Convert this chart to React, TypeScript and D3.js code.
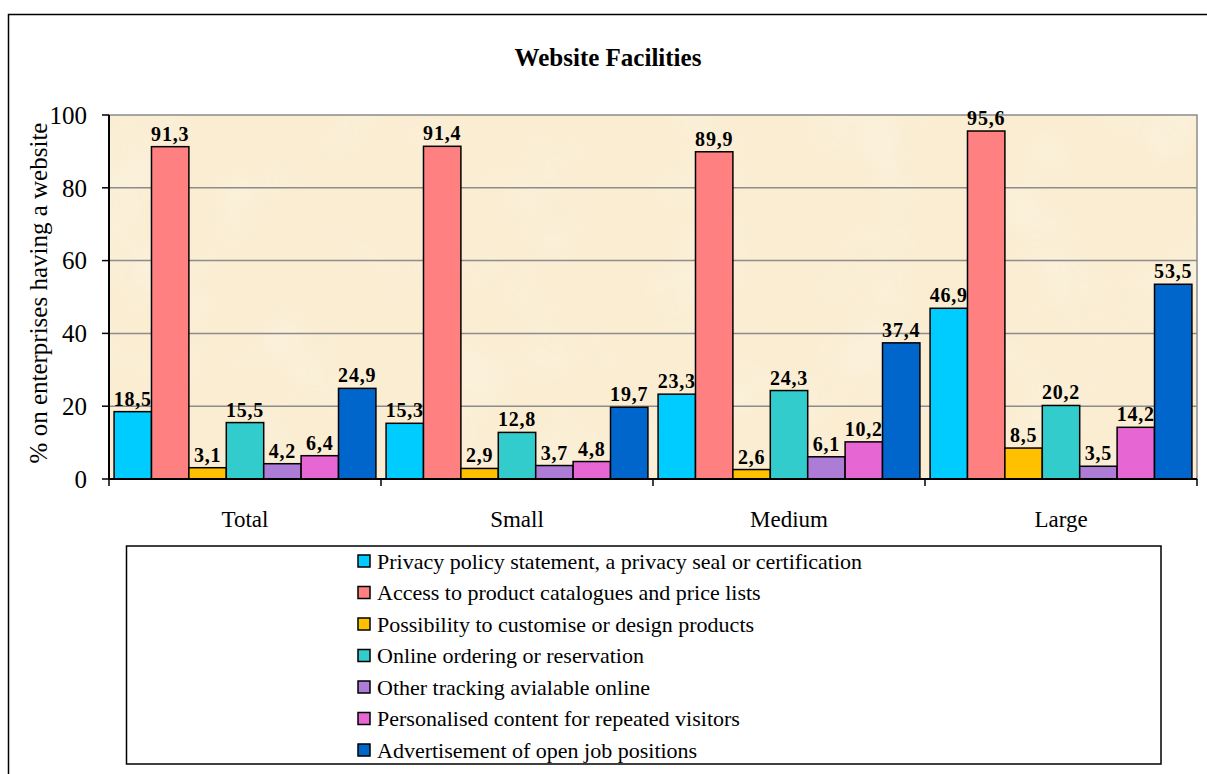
import React from "react";
import * as d3 from "d3";

// enterprise size classes
const categories = ["Total", "Small", "Medium", "Large"];

// % of enterprises having a website, per facility
const privacyPolicy = [18.5, 15.3, 23.3, 46.9];
const productCatalogues = [91.3, 91.4, 89.9, 95.6];
const customiseProducts = [3.1, 2.9, 2.6, 8.5];
const onlineOrdering = [15.5, 12.8, 24.3, 20.2];
const otherTracking = [4.2, 3.7, 6.1, 3.5];
const personalisedContent = [6.4, 4.8, 10.2, 14.2];
const jobPositions = [24.9, 19.7, 37.4, 53.5];

const seriesNames = [
  "Privacy policy statement, a privacy seal or certification",
  "Access to product catalogues and price lists",
  "Possibility to customise or design products",
  "Online ordering or reservation",
  "Other tracking avialable online",
  "Personalised content for repeated visitors",
  "Advertisement of open job positions",
];
const seriesColors = ["#00CCFF", "#FF8080", "#FFC000", "#33CCCC", "#AC7CD6", "#E666D4", "#0066CC"];
const yTicks = [0, 20, 40, 60, 80, 100];

const series = [
  privacyPolicy,
  productCatalogues,
  customiseProducts,
  onlineOrdering,
  otherTracking,
  personalisedContent,
  jobPositions,
].map((values, i) => ({ name: seriesNames[i], color: seriesColors[i], values }));

const W = 1207;
const H = 774;
const serif = { fontFamily: "Liberation Serif" };

const App = () => {
  const plot = { left: 109, right: 1197, top: 115, bottom: 479 };

  const xScale = d3.scaleBand<string>().domain(categories).range([plot.left, plot.right]).padding(0);
  const inner = d3
    .scaleBand<string>()
    .domain(seriesNames)
    .range([0, xScale.bandwidth()])
    .paddingInner(0)
    .paddingOuter(0.136);
  const yScale = d3.scaleLinear().domain([0, 100]).range([plot.bottom, plot.top]);
  const fmt = (v: number) => d3.format(".1f")(v).replace(".", ",");

  const legend = { x: 126.5, y: 546, w: 1034.5, h: 218, rowTop: 561, rowStep: 31.5, swatchX: 358 };

  return (
    <div style={{ position: "fixed", left: 0, top: 0 }}>
      <svg width={W} height={H} style={{ display: "block", background: "white" }}>
        <defs>
          {/* soft mottled parchment look for the plot area */}
          <filter id="parchment" x="0" y="0" width="100%" height="100%">
            <feTurbulence type="fractalNoise" baseFrequency="0.012" numOctaves={3} seed={4} />
            <feColorMatrix
              type="matrix"
              values="0 0 0 0 1  0 0 0 0 1  0 0 0 0 1  0 0 0 -1.4 0.75"
            />
          </filter>
        </defs>

        {/* outer chart border, runs off the page right and bottom */}
        <rect x={8.5} y={14.5} width={W + 20} height={H + 20} fill="none" stroke="black" strokeWidth={1.5} />

        {/* title */}
        <text x={608} y={66} textAnchor="middle" style={serif} fontWeight="bold" fontSize={25}>
          Website Facilities
        </text>

        {/* plot background */}
        <rect
          x={plot.left}
          y={plot.top}
          width={plot.right - plot.left}
          height={plot.bottom - plot.top}
          fill="#FAEDD2"
        />
        <rect
          x={plot.left}
          y={plot.top}
          width={plot.right - plot.left}
          height={plot.bottom - plot.top}
          filter="url(#parchment)"
          opacity={0.35}
        />
        <rect
          x={plot.left}
          y={plot.top}
          width={plot.right - plot.left}
          height={plot.bottom - plot.top}
          fill="none"
          stroke="#8c8c8c"
          strokeWidth={1.5}
        />

        {/* gridlines */}
        {yTicks.slice(1, -1).map((t) => (
          <line key={t} x1={plot.left} x2={plot.right} y1={yScale(t)} y2={yScale(t)} stroke="#8c8c8c" strokeWidth={1.5} />
        ))}

        {/* bars */}
        {categories.map((c, ci) => (
          <g key={c} transform={`translate(${xScale(c)},0)`}>
            {series.map((s) => {
              const v = s.values[ci];
              const bx = inner(s.name) as number;
              return (
                <g key={s.name}>
                  <rect
                    x={bx}
                    y={yScale(v)}
                    width={inner.bandwidth()}
                    height={yScale(0) - yScale(v)}
                    fill={s.color}
                    stroke="black"
                    strokeWidth={1.5}
                  />
                  <text
                    x={bx + inner.bandwidth() / 2}
                    y={yScale(v) - 6}
                    textAnchor="middle"
                    style={serif}
                    fontWeight="bold"
                    fontSize={20}
                    letterSpacing={0.8}
                  >
                    {fmt(v)}
                  </text>
                </g>
              );
            })}
          </g>
        ))}

        {/* y axis */}
        <line x1={plot.left} x2={plot.left} y1={plot.top} y2={plot.bottom} stroke="black" strokeWidth={2} />
        {yTicks.map((t) => (
          <g key={t}>
            <line x1={plot.left - 7} x2={plot.left} y1={yScale(t)} y2={yScale(t)} stroke="black" strokeWidth={1.5} />
            <text x={plot.left - 22} y={yScale(t)} dy="0.35em" textAnchor="end" style={serif} fontSize={25}>
              {t}
            </text>
          </g>
        ))}
        <text
          transform={`translate(38,${(plot.top + plot.bottom) / 2 - 4}) rotate(-90)`}
          textAnchor="middle"
          dy="0.35em"
          style={serif}
          fontSize={25}
        >
          % on enterprises having a website
        </text>

        {/* x axis */}
        <line x1={plot.left} x2={plot.right} y1={plot.bottom} y2={plot.bottom} stroke="black" strokeWidth={2} />
        {[...categories.map((c) => xScale(c) as number), plot.right].map((x, i) => (
          <line key={i} x1={x} x2={x} y1={plot.bottom} y2={plot.bottom + 7} stroke="black" strokeWidth={1.5} />
        ))}
        {categories.map((c) => (
          <text
            key={c}
            x={(xScale(c) as number) + xScale.bandwidth() / 2}
            y={527}
            textAnchor="middle"
            style={serif}
            fontSize={23}
          >
            {c}
          </text>
        ))}

        {/* legend */}
        <rect x={legend.x} y={legend.y} width={legend.w} height={legend.h} fill="white" stroke="black" strokeWidth={1.5} />
        {series.map((s, i) => {
          const cy = legend.rowTop + i * legend.rowStep;
          return (
            <g key={s.name}>
              <rect x={legend.swatchX} y={cy - 6} width={12} height={12} fill={s.color} stroke="black" strokeWidth={1.5} />
              <text x={legend.swatchX + 19} y={cy} dy="0.35em" style={serif} fontSize={22}>
                {s.name}
              </text>
            </g>
          );
        })}
      </svg>
    </div>
  );
};

export default App;
